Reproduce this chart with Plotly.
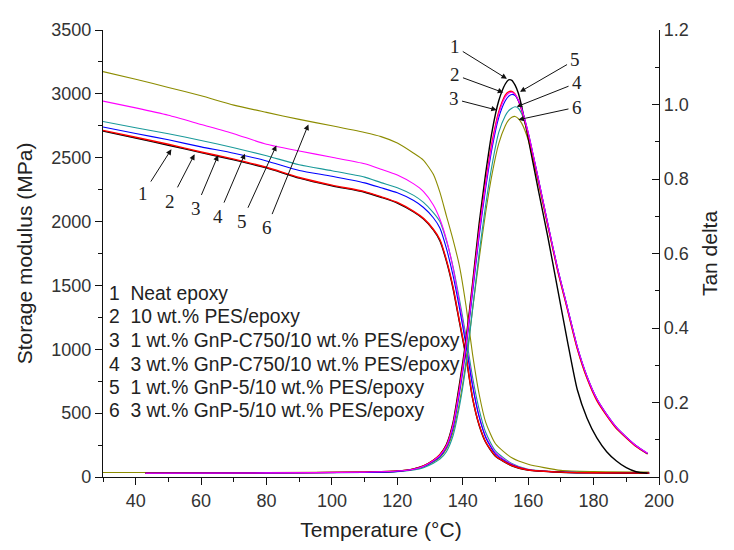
import plotly.graph_objects as go

# ---------------- data ----------------
names = ["Neat epoxy", "10 wt.% PES/epoxy", "1 wt.% GnP-C750/10 wt.% PES/epoxy",
         "3 wt.% GnP-C750/10 wt.% PES/epoxy", "1 wt.% GnP-5/10 wt.% PES/epoxy",
         "3 wt.% GnP-5/10 wt.% PES/epoxy"]
colors = ["#000000", "#ff0000", "#0000ff", "#1a9a9a", "#ff00ff", "#8c8c00"]

# storage modulus (MPa)
sm_T = [30, 40, 50, 60, 70, 80, 90, 100, 110, 115, 120, 125, 128, 131, 133, 135, 137, 139,
        141, 143, 145, 147, 150, 155, 160, 170, 180, 197]
sm_1 = [2708, 2654, 2598, 2540, 2483, 2420, 2340, 2280, 2230, 2190, 2145, 2075, 2020, 1935,
        1850, 1690, 1480, 1210, 940, 615, 405, 272, 163, 88, 54, 37, 32, 29]
sm_2 = [2714, 2660, 2605, 2545, 2489, 2425, 2345, 2285, 2235, 2195, 2150, 2080, 2025, 1940,
        1860, 1700, 1490, 1220, 950, 620, 410, 275, 165, 90, 55, 38, 33, 30]
sm_3 = [2740, 2690, 2640, 2585, 2535, 2475, 2400, 2355, 2303, 2265, 2225, 2165, 2110, 2030,
        1950, 1790, 1580, 1320, 1030, 710, 470, 310, 180, 95, 55, 38, 33, 30]
sm_4 = [2784, 2735, 2688, 2635, 2578, 2515, 2445, 2398, 2348, 2305, 2265, 2205, 2150, 2070,
        2000, 1850, 1650, 1390, 1100, 780, 530, 350, 205, 105, 60, 40, 35, 32]
sm_5 = [2943, 2890, 2832, 2760, 2688, 2605, 2553, 2503, 2452, 2410, 2365, 2295, 2235, 2130,
        2020, 1860, 1640, 1360, 1060, 730, 480, 320, 190, 100, 58, 38, 33, 30]
sm_6 = [3174, 3115, 3050, 2985, 2912, 2855, 2800, 2750, 2697, 2665, 2615, 2535, 2480, 2370,
        2230, 2045, 1860, 1650, 1340, 960, 650, 430, 260, 150, 100, 52, 42, 38]

# tan delta
td_T = [43, 80, 110, 120, 125, 128, 131, 133, 135, 137, 139, 141, 143, 145, 147, 149, 151, 153,
        154, 155, 156, 157, 158, 160, 163, 166, 169, 172, 175, 178, 181, 184, 187, 190, 193, 196.5]
td_1 = [0.010, 0.011, 0.013, 0.016, 0.022, 0.030, 0.045, 0.060, 0.087, 0.145, 0.25, 0.37, 0.52,
        0.68, 0.815, 0.93, 1.01, 1.055, 1.066, 1.065, 1.052, 1.03, 0.995, 0.91, 0.775, 0.645,
        0.505, 0.365, 0.235, 0.158, 0.105, 0.068, 0.043, 0.025, 0.014, 0.010]
td_2 = [0.010, 0.011, 0.013, 0.016, 0.022, 0.030, 0.045, 0.060, 0.085, 0.14, 0.24, 0.36, 0.51,
        0.66, 0.79, 0.90, 0.98, 1.025, 1.034, 1.035, 1.028, 1.01, 0.985, 0.92, 0.80, 0.675,
        0.555, 0.45, 0.345, 0.265, 0.205, 0.165, 0.13, 0.105, 0.082, 0.062]
td_3 = [0.010, 0.011, 0.012, 0.015, 0.021, 0.028, 0.042, 0.055, 0.080, 0.13, 0.225, 0.345, 0.495,
        0.645, 0.775, 0.885, 0.965, 1.01, 1.022, 1.027, 1.024, 1.01, 0.988, 0.925, 0.805, 0.68,
        0.56, 0.455, 0.35, 0.27, 0.21, 0.168, 0.133, 0.107, 0.084, 0.063]
td_4 = [0.010, 0.011, 0.012, 0.014, 0.019, 0.025, 0.037, 0.048, 0.068, 0.11, 0.19, 0.30, 0.45,
        0.60, 0.73, 0.84, 0.925, 0.97, 0.983, 0.99, 0.994, 0.99, 0.975, 0.92, 0.805, 0.68,
        0.56, 0.455, 0.35, 0.27, 0.21, 0.168, 0.133, 0.107, 0.084, 0.063]
td_5 = [0.010, 0.011, 0.013, 0.016, 0.021, 0.029, 0.044, 0.058, 0.083, 0.138, 0.235, 0.355, 0.505,
        0.655, 0.785, 0.895, 0.975, 1.02, 1.03, 1.033, 1.027, 1.012, 0.988, 0.925, 0.805, 0.68,
        0.56, 0.455, 0.35, 0.27, 0.21, 0.168, 0.133, 0.107, 0.084, 0.064]
td6_T = [30] + td_T[1:]
td_6 = [0.012, 0.012, 0.013, 0.015, 0.020, 0.027, 0.040, 0.052, 0.075, 0.12, 0.20, 0.31, 0.45,
        0.585, 0.71, 0.815, 0.895, 0.943, 0.958, 0.966, 0.968, 0.962, 0.95, 0.905, 0.795, 0.675,
        0.555, 0.45, 0.345, 0.265, 0.207, 0.165, 0.13, 0.105, 0.082, 0.062]

sm_all = [sm_1, sm_2, sm_3, sm_4, sm_5, sm_6]
td_all = [td_1, td_2, td_3, td_4, td_5, td_6]
td_Ts = [td_T, td_T, td_T, td_T, td_T, td6_T]

# legend-text rows (storage-modulus axis positions)
legend_rows_y = [1435, 1254, 1068, 884, 701, 520]

# ---------------- figure ----------------
fig = go.Figure()
widths = [1.4, 1.4, 1.1, 1.1, 1.1, 1.1]
sm_order = [5, 3, 4, 2, 0, 1]
td_order = [5, 3, 0, 1, 2, 4]
for i in sm_order:
    fig.add_trace(go.Scatter(x=sm_T, y=sm_all[i], mode="lines", name=names[i],
                             line=dict(color=colors[i], width=widths[i], shape="spline", smoothing=0.6),
                             showlegend=False))
for i in td_order:
    fig.add_trace(go.Scatter(x=td_Ts[i], y=td_all[i], mode="lines", name=names[i], yaxis="y2",
                             line=dict(color=colors[i], width=widths[i], shape="spline", smoothing=0.6),
                             showlegend=False))

num_font = dict(family="Liberation Serif, Times New Roman, serif", size=19, color="#222")
ann = []
sm_labels = [(42.3, 2220, 50.9, 2566), (50.6, 2160, 58.0, 2527), (58.3, 2100, 65.2, 2519),
             (65.2, 2040, 73.4, 2532), (72.4, 2000, 83.0, 2596), (80.0, 1950, 92.8, 2760)]
for k, (tx, ty, hx, hy) in enumerate(sm_labels):
    ann.append(dict(x=hx, y=hy, ax=tx, ay=ty, xref="x", yref="y", axref="x", ayref="y",
                    text=str(k + 1), font=num_font, showarrow=True, arrowhead=2, arrowsize=1.1,
                    arrowwidth=1, arrowcolor="#111", standoff=0, startstandoff=2))
td_labels = [(137.5, 1.156, 153.5, 1.069), (137.5, 1.08, 152.4, 1.032), (137.2, 1.015, 150.4, 0.985),
             (174.9, 1.058, 156.5, 0.994), (174.4, 1.12, 157.5, 1.034), (174.9, 0.993, 157.0, 0.959)]
for k, (tx, ty, hx, hy) in enumerate(td_labels):
    ann.append(dict(x=hx, y=hy, ax=tx, ay=ty, xref="x", yref="y2", axref="x", ayref="y2",
                    text=str(k + 1), font=num_font, showarrow=True, arrowhead=2, arrowsize=1.1,
                    arrowwidth=1, arrowcolor="#111", standoff=0, startstandoff=2))

for k, n in enumerate(names):
    ann.append(dict(x=31.3, y=legend_rows_y[k], xref="x", yref="y", xanchor="left", yanchor="middle",
                    text=f"{k + 1}&nbsp;&nbsp;{n}", align="left", showarrow=False,
                    font=dict(family="Liberation Sans, Arial, sans-serif", size=19.3, color="#222")))

tick_font = dict(family="Liberation Sans, Arial, sans-serif", size=18, color="#333")
title_font = dict(family="Liberation Sans, Arial, sans-serif", size=21, color="#222")

fig.update_layout(
    width=734, height=550,
    margin=dict(l=95, r=83, t=14, b=81),
    plot_bgcolor="white", paper_bgcolor="white",
    annotations=ann,
    xaxis=dict(range=[30, 200], tickvals=[40, 60, 80, 100, 120, 140, 160, 180, 200],
               ticks="outside", ticklen=7, tickwidth=1, tickcolor="#111",
               minor=dict(dtick=10, tick0=30, ticks="outside", ticklen=4, tickcolor="#111"),
               showline=True, linecolor="#111", linewidth=1.3, showgrid=False, zeroline=False,
               tickfont=tick_font, title=dict(text="Temperature (°C)", font=title_font, standoff=12)),
    yaxis=dict(range=[0, 3500], dtick=500, ticks="outside", ticklen=7, tickwidth=1, tickcolor="#111",
               minor=dict(dtick=250, ticks="outside", ticklen=4, tickcolor="#111"),
               showline=True, linecolor="#111", linewidth=1.3, showgrid=False, zeroline=False,
               tickfont=tick_font, title=dict(text="Storage modulus (MPa)", font=title_font, standoff=12)),
    yaxis2=dict(range=[0, 1.2], dtick=0.2, tickformat=".1f", overlaying="y", side="right",
                ticks="inside", ticklen=7, tickwidth=1, tickcolor="#111",
                minor=dict(dtick=0.1, ticks="inside", ticklen=4, tickcolor="#111"),
                showline=True, linecolor="#111", linewidth=1.3, showgrid=False, zeroline=False,
                tickfont=tick_font, title=dict(text="Tan delta", font=title_font, standoff=14)),
)

fig.write_html("out.html")
